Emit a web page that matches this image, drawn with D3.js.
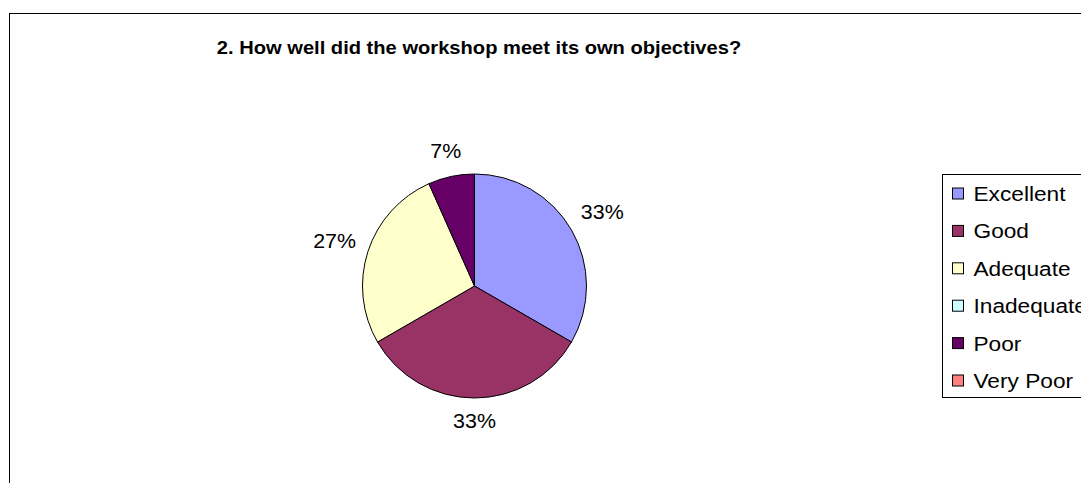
<!DOCTYPE html>
<html>
<head>
<meta charset="utf-8">
<script src="https://cdn.jsdelivr.net/npm/d3@7"></script>
<style>
  html, body { margin: 0; padding: 0; background: #fff; }
  svg { display: block; font-family: "Liberation Sans", Arial, sans-serif; }
</style>
</head>
<body>
<svg id="chart" width="1081" height="483"></svg>
<script>
// Survey responses for question 2
const categories = ["Excellent", "Good", "Adequate", "Inadequate", "Poor", "Very Poor"];
const responses = [5, 5, 4, 0, 1, 0];
const colors = ["#9999FF", "#993366", "#FFFFCC", "#CCFFFF", "#660066", "#FF8080"];
const title = "2. How well did the workshop meet its own objectives?";

const svg = d3.select("#chart");

// Chart area frame
svg.append("rect")
  .attr("x", 9.5).attr("y", 13.5)
  .attr("width", 1100).attr("height", 500)
  .attr("fill", "#fff").attr("stroke", "#000").attr("stroke-width", 1);

// Title
svg.append("text")
  .attr("transform", "translate(479,53.5) scale(1.06,1)")
  .attr("text-anchor", "middle")
  .attr("font-weight", "bold")
  .attr("font-size", 19)
  .attr("fill", "#000")
  .text(title);

// Pie
const cx = 474.5, cy = 286, r = 112;
const total = d3.sum(responses);
const data = categories.map((c, i) => ({ cat: c, value: responses[i], color: colors[i] }));

const pie = d3.pie().value(d => d.value).sort(null);
const arcs = pie(data);
const arcGen = d3.arc().innerRadius(0).outerRadius(r);

const g = svg.append("g").attr("transform", `translate(${cx},${cy})`);
g.selectAll("path.slice")
  .data(arcs.filter(a => a.data.value > 0))
  .join("path")
  .attr("class", "slice")
  .attr("d", arcGen)
  .attr("fill", d => d.data.color)
  .attr("stroke", "#000")
  .attr("stroke-width", 1)
  .attr("stroke-linejoin", "round");

// Percentage labels placed just outside the rim
const fmt = v => Math.round(v / total * 100) + "%";
const labelSize = 20, labelScale = 1.07;
const pad = 11, halfH = 12;
g.selectAll("text.pct")
  .data(arcs.filter(a => a.data.value > 0))
  .join("text")
  .attr("class", "pct")
  .attr("text-anchor", "middle")
  .attr("font-size", labelSize)
  .attr("fill", "#000")
  .text(d => fmt(d.data.value))
  .attr("transform", function (d) {
    const a = (d.startAngle + d.endAngle) / 2;
    const halfW = this.getComputedTextLength() * labelScale / 2;
    const dist = r + pad + halfW * Math.abs(Math.sin(a)) + halfH * Math.abs(Math.cos(a));
    const x = dist * Math.sin(a);
    const y = -dist * Math.cos(a) + 7;
    return `translate(${x},${y}) scale(${labelScale},1)`;
  });

// Legend
const legX = 942.5, legTop = 174.5, rowH = 37.4, firstRow = 193.5;
svg.append("rect")
  .attr("x", legX).attr("y", legTop)
  .attr("width", 200).attr("height", 223)
  .attr("fill", "#fff").attr("stroke", "#000").attr("stroke-width", 1);

const legend = svg.append("g");
const rows = legend.selectAll("g.item")
  .data(data)
  .join("g")
  .attr("class", "item")
  .attr("transform", (d, i) => `translate(0,${firstRow + i * rowH})`);

rows.append("rect")
  .attr("x", 952.5).attr("y", -5.5)
  .attr("width", 11).attr("height", 11)
  .attr("fill", d => d.color)
  .attr("stroke", "#000").attr("stroke-width", 1);

rows.append("text")
  .attr("transform", "translate(973.5,7.5) scale(1.08,1)")
  .attr("font-size", 21)
  .attr("fill", "#000")
  .text(d => d.cat);
</script>
</body>
</html>
